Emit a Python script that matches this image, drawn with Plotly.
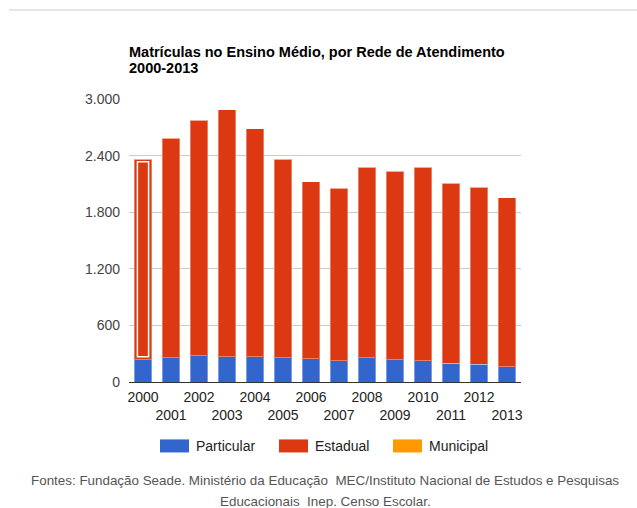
import plotly.graph_objects as go

# Enrolment in secondary education (thousands), by school network
years = [2000, 2001, 2002, 2003, 2004, 2005, 2006, 2007, 2008, 2009, 2010, 2011, 2012, 2013]
particular = [238, 255, 280, 270, 270, 255, 244, 223, 255, 234, 223, 199, 188, 160]
estadual = [2125, 2331, 2497, 2616, 2415, 2108, 1878, 1831, 2023, 2001, 2055, 1909, 1877, 1795]
municipal = [0, 0, 0, 0, 0, 0, 0, 0, 0, 0, 0, 0, 0, 0]

series_names = ["Particular", "Estadual", "Municipal"]
series_colors = ["#3366cc", "#dc3912", "#ff9900"]

y_ticks = [0, 600, 1200, 1800, 2400, 3000]
x_ticktext = [str(y) if i % 2 == 0 else "<br>" + str(y) for i, y in enumerate(years)]

FONT = "Liberation Sans, Arial, sans-serif"

fig = go.Figure()
for name, vals, col in zip(series_names, [particular, estadual, municipal], series_colors):
    fig.add_trace(go.Bar(
        x=years, y=vals, name=name,
        marker=dict(color=col, line=dict(color="rgba(255,255,255,0.35)", width=1)),
        showlegend=False, hoverinfo="skip",
    ))

# highlight frame on the first (selected) bar
fig.add_shape(
    type="rect", xref="x", yref="y",
    x0=years[0] - 0.2, x1=years[0] + 0.2,
    y0=particular[0] + 30, y1=particular[0] + estadual[0] - 28,
    line=dict(color="white", width=1.5), fillcolor="rgba(0,0,0,0)",
)

plot_l, plot_w, plot_t, plot_h = 129, 392, 99.3, 282.4
def px_x(px):
    return (px - plot_l) / plot_w
def px_y(py):
    return 1 - (py - plot_t) / plot_h

# thin separator line at the top of the page
fig.add_shape(type="line", xref="paper", yref="paper",
              x0=px_x(9), x1=px_x(637), y0=px_y(10.5), y1=px_y(10.5),
              line=dict(color="#dddddd", width=1.5))

# legend drawn as swatches + labels
legend_x = [160, 279, 393]
for lx, name, col in zip(legend_x, series_names, series_colors):
    fig.add_shape(type="rect", xref="paper", yref="paper",
                  x0=px_x(lx), x1=px_x(lx + 29), y0=px_y(452), y1=px_y(439),
                  fillcolor=col, line=dict(width=0))
    fig.add_annotation(xref="paper", yref="paper", x=px_x(lx + 34), y=px_y(445.5),
                       text=name, showarrow=False, xanchor="left", yanchor="middle",
                       font=dict(family=FONT, size=14, color="#222222"))

# subtitle (second title line)
fig.add_annotation(xref="paper", yref="paper", x=px_x(127), y=px_y(68),
                   text="<b>2000-2013</b>", showarrow=False,
                   xanchor="left", yanchor="middle",
                   font=dict(family=FONT, size=14.5, color="#000000"))

# source note
source_lines = [
    "Fontes: Fundação Seade. Ministério da Educação  MEC/Instituto Nacional de Estudos e Pesquisas",
    "Educacionais  Inep. Censo Escolar.",
]
for line, ly in zip(source_lines, [480, 500.5]):
    fig.add_annotation(
        xref="paper", yref="paper", x=px_x(325), y=px_y(ly),
        text=line, showarrow=False, xanchor="center", yanchor="middle",
        font=dict(family=FONT, size=13.4, color="#555555"),
    )

fig.update_layout(
    width=637, height=508,
    margin=dict(l=129, r=116, t=99, b=126),
    paper_bgcolor="white", plot_bgcolor="white",
    barmode="stack", bargap=0.39,
    separators=",.",
    title=dict(
        text="<b>Matrículas no Ensino Médio, por Rede de Atendimento</b>",
        x=129 / 637, xanchor="left", y=1 - 52 / 508, yanchor="middle",
        font=dict(family=FONT, size=14.5, color="#000000"),
    ),
    font=dict(family=FONT),
)
fig.update_xaxes(
    tickmode="array", tickvals=years, ticktext=x_ticktext,
    range=[years[0] - 0.5, years[-1] + 0.5],
    showline=True, linecolor="#333333", linewidth=1,
    showgrid=False, ticks="", tickangle=0, ticklabelstandoff=2,
    tickfont=dict(family=FONT, size=14, color="#222222"),
)
fig.update_yaxes(
    range=[0, 3000], tickmode="array", tickvals=y_ticks, tickformat=",d",
    showgrid=True, gridcolor="#cccccc", gridwidth=1, zeroline=False,
    showline=False, ticks="", ticklabelstandoff=8,
    tickfont=dict(family=FONT, size=14, color="#444444"),
)

fig.write_html("out.html")
